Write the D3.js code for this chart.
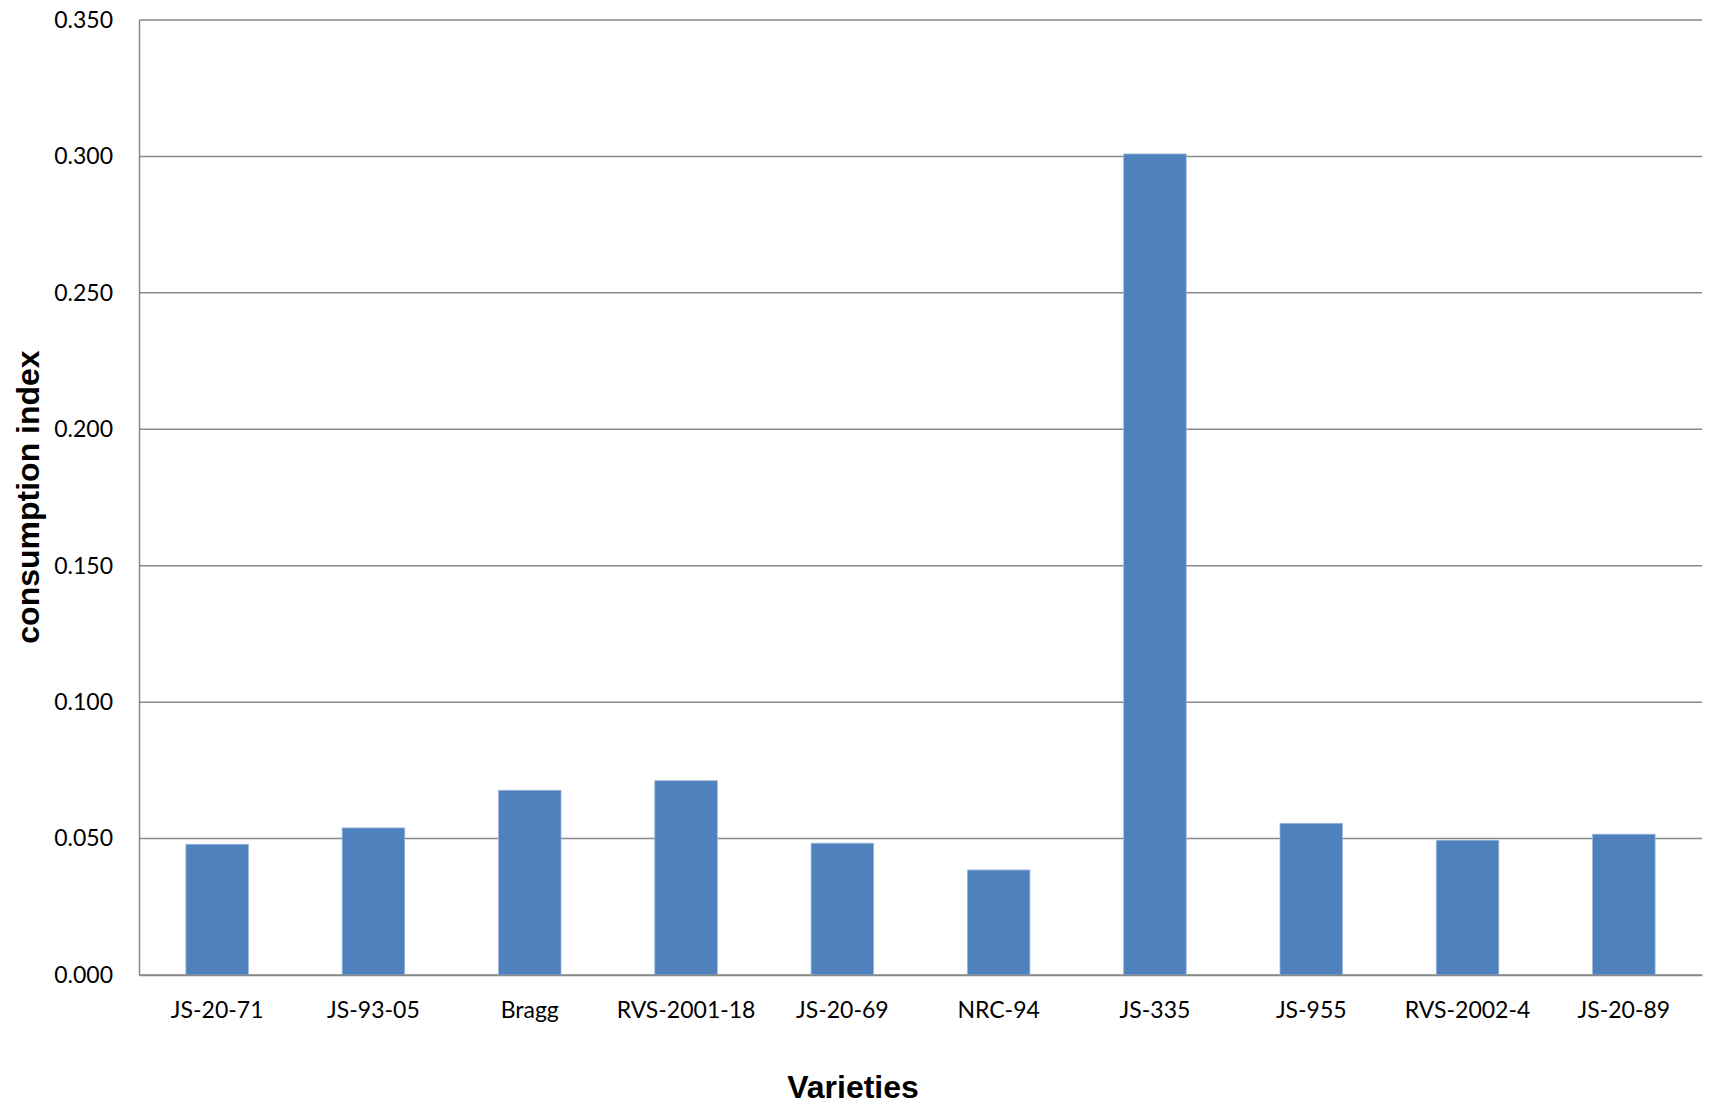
<!DOCTYPE html>
<html>
<head>
<meta charset="utf-8">
<script src="https://cdn.jsdelivr.net/npm/d3@7"></script>
<style>
  html, body { margin: 0; padding: 0; background: #fff; }
  svg { display: block; }
</style>
</head>
<body>
<svg id="chart" width="1712" height="1106"></svg>
<script>
// Consumption index per soybean variety
const varieties = ["JS-20-71", "JS-93-05", "Bragg", "RVS-2001-18", "JS-20-69",
                   "NRC-94", "JS-335", "JS-955", "RVS-2002-4", "JS-20-89"];
const consumptionIndex = [0.0479, 0.0539, 0.0677, 0.0712, 0.0483,
                          0.0385, 0.3009, 0.0556, 0.0494, 0.0516];
const yTicks = [0, 0.05, 0.10, 0.15, 0.20, 0.25, 0.30, 0.35];

const margin = { top: 20, right: 10, bottom: 131, left: 139 };
const W = 1712, H = 1106;
const innerW = W - margin.left - margin.right;
const innerH = H - margin.top - margin.bottom;

const svg = d3.select("#chart");
const g = svg.append("g").attr("transform", `translate(${margin.left},${margin.top})`);

const x = d3.scaleBand().domain(varieties).range([0, innerW]).paddingInner(0.6).paddingOuter(0.3);
const y = d3.scaleLinear().domain([0, 0.35]).range([innerH, 0]);

const gridColor = "#898989";
const labelFont = "Lato, 'Liberation Sans', sans-serif";

// horizontal gridlines
g.append("g")
  .selectAll("line")
  .data(yTicks)
  .join("line")
  .attr("x1", 0).attr("x2", innerW)
  .attr("y1", d => y(d)).attr("y2", d => y(d))
  .attr("stroke", gridColor).attr("stroke-width", 1.5);

// bars
g.append("g")
  .selectAll("rect")
  .data(varieties.map((v, i) => ({ v, val: consumptionIndex[i] })))
  .join("rect")
  .attr("x", d => x(d.v))
  .attr("width", x.bandwidth())
  .attr("y", d => y(d.val))
  .attr("height", d => innerH - y(d.val))
  .attr("fill", "#4F81BD")
  .attr("stroke", "#9bb7db")
  .attr("stroke-width", 0.8);

// y axis
const yAxis = g.append("g")
  .call(d3.axisLeft(y).tickValues(yTicks).tickFormat(d3.format(".3f")).tickSize(0).tickPadding(26));
yAxis.select(".domain").attr("stroke", gridColor).attr("stroke-width", 1.5);
yAxis.selectAll("text")
  .attr("font-family", labelFont).attr("font-size", 23).attr("fill", "#000");

// x axis
const xAxis = g.append("g")
  .attr("transform", `translate(0,${innerH})`)
  .call(d3.axisBottom(x).tickSize(0).tickPadding(27));
xAxis.select(".domain").attr("stroke", gridColor).attr("stroke-width", 1.5);
xAxis.selectAll("text")
  .attr("font-family", labelFont).attr("font-size", 23).attr("fill", "#000");

// axis titles
svg.append("text")
  .attr("x", 853).attr("y", 1098)
  .attr("text-anchor", "middle")
  .attr("font-family", "'Liberation Sans', Arial, sans-serif")
  .attr("font-weight", "bold").attr("font-size", 32)
  .text("Varieties");

svg.append("text")
  .attr("transform", "translate(39,497) rotate(-90)")
  .attr("text-anchor", "middle")
  .attr("font-family", "'Liberation Sans', Arial, sans-serif")
  .attr("font-weight", "bold").attr("font-size", 32)
  .text("consumption index");
</script>
</body>
</html>
